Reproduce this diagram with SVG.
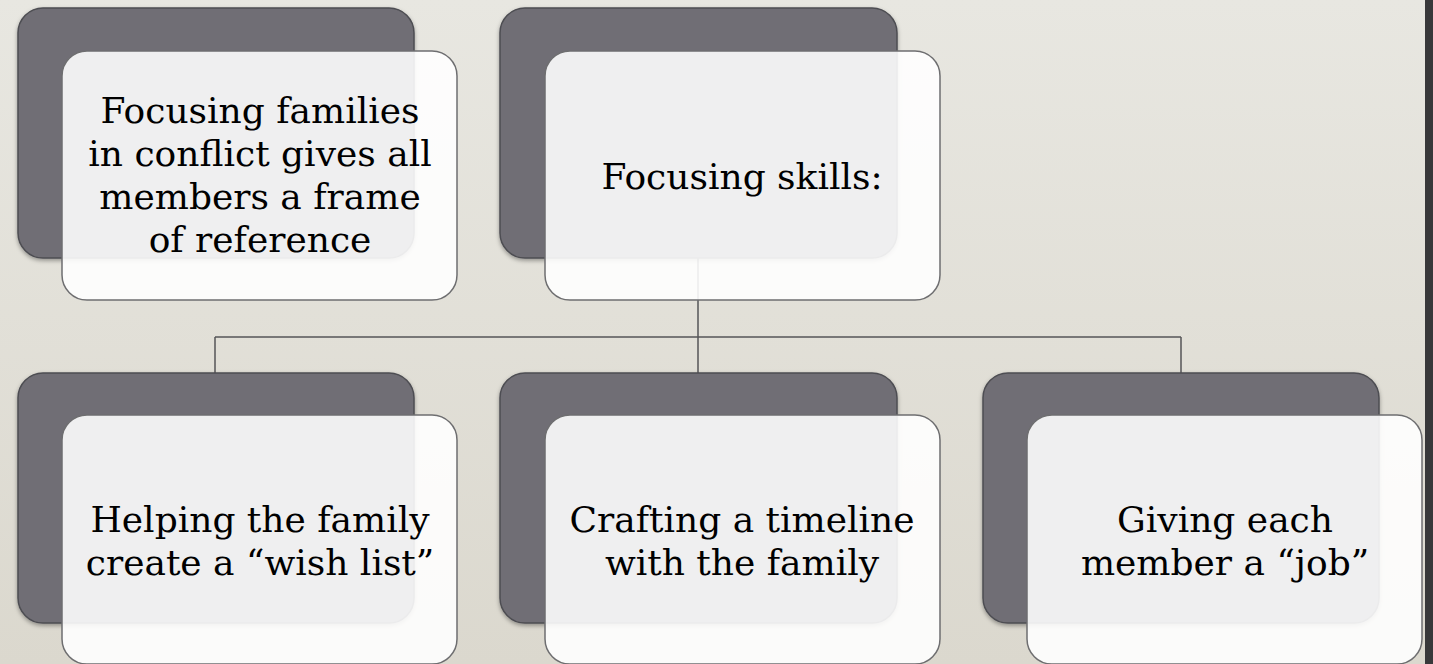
<svg xmlns="http://www.w3.org/2000/svg" width="1433" height="664" viewBox="0 0 1433 664">
<defs>
<linearGradient id="bg" x1="0" y1="0" x2="0" y2="1">
<stop offset="0" stop-color="#e8e7e1"/>
<stop offset="1" stop-color="#dbd8ce"/>
</linearGradient>
<filter id="sh" x="-10%" y="-10%" width="120%" height="120%">
<feDropShadow dx="0" dy="2" stdDeviation="2" flood-color="#000" flood-opacity="0.35"/>
</filter>
</defs>
<style>
.back{fill:#6f6e74;stroke:#4d4d52;stroke-width:1.5;filter:url(#sh)}
.front{fill:#ffffff;fill-opacity:0.89;stroke:#6e6e70;stroke-width:1.5}
.lbl{font-family:"DejaVu Serif","Liberation Serif",serif;font-size:36px;fill:#000;text-anchor:middle}
.conn{fill:none;stroke:#555558;stroke-width:1.5}
</style>
<rect x="0" y="0" width="1433" height="664" fill="url(#bg)"/>
<rect x="1425" y="0" width="8" height="664" fill="#38383a"/>
<g id="connectors">
<path class="conn" d="M698 258 V337 M215 337 H1181 M215 337 V373 M698 337 V373 M1181 337 V373"/>
</g>
<g id="node1">
<rect class="back" x="18" y="8" width="396" height="250" rx="25"/>
<rect class="front" x="62" y="51" width="395" height="249" rx="25"/>
<text class="lbl" x="260" y="123">Focusing families</text>
<text class="lbl" x="260" y="166">in conflict gives all</text>
<text class="lbl" x="260" y="209">members a frame</text>
<text class="lbl" x="260" y="252">of reference</text>
</g>
<g id="node2">
<rect class="back" x="500" y="8" width="397" height="250" rx="25"/>
<rect class="front" x="545" y="51" width="395" height="249" rx="25"/>
<text class="lbl" x="742" y="189">Focusing skills:</text>
</g>
<g id="node3">
<rect class="back" x="18" y="373" width="396" height="250" rx="25"/>
<rect class="front" x="62" y="415" width="395" height="249" rx="25"/>
<text class="lbl" x="260" y="532">Helping the family</text>
<text class="lbl" x="260" y="575">create a “wish list”</text>
</g>
<g id="node4">
<rect class="back" x="500" y="373" width="397" height="250" rx="25"/>
<rect class="front" x="545" y="415" width="395" height="249" rx="25"/>
<text class="lbl" x="742" y="532">Crafting a timeline</text>
<text class="lbl" x="742" y="575">with the family</text>
</g>
<g id="node5">
<rect class="back" x="983" y="373" width="396" height="250" rx="25"/>
<rect class="front" x="1027" y="415" width="395" height="249" rx="25"/>
<text class="lbl" x="1225" y="532">Giving each</text>
<text class="lbl" x="1225" y="575">member a “job”</text>
</g>
</svg>
